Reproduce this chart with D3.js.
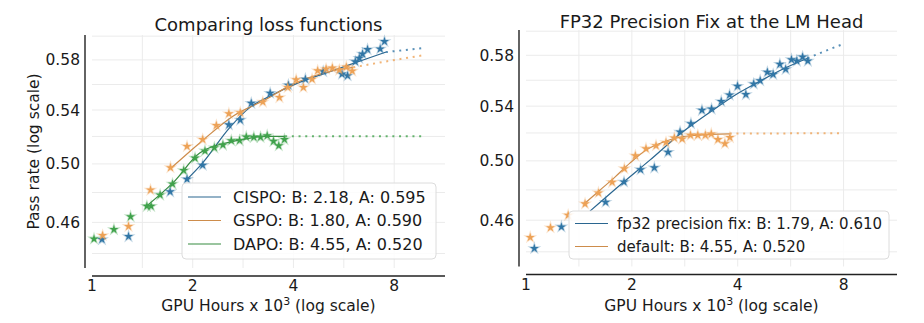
<!DOCTYPE html>
<html>
<head>
<meta charset="utf-8">
<script src="https://cdn.jsdelivr.net/npm/d3@7"></script>
<style>
  html, body { margin: 0; padding: 0; background: #fff; }
  svg { display: block; font-family: "DejaVu Sans", sans-serif; }
</style>
</head>
<body>
<svg id="chart" width="924" height="323"></svg>
<script>
// ---- left panel: loss functions (GPU hours x 1e3, pass rate) ----
var cispoHours = [1.071, 1.286, 1.712, 1.923, 2.142, 2.565, 2.774, 2.992, 3.408, 3.864, 4.343, 4.91, 5.587, 5.807, 6.123, 6.292, 6.435, 6.661, 7.267, 7.485];
var cispoPass  = [0.4489, 0.4508, 0.4805, 0.4892, 0.4991, 0.5287, 0.5323, 0.5452, 0.5531, 0.5595, 0.5643, 0.5705, 0.5684, 0.5671, 0.5786, 0.5814, 0.5850, 0.5887, 0.5892, 0.5955];
var cispoFitHours = [1.915, 2.142, 2.565, 2.992, 3.408, 4.168, 5.239, 6.588, 7.557];
var cispoFitPass  = [0.4887, 0.5008, 0.5259, 0.5428, 0.5509, 0.5617, 0.5711, 0.5808, 0.5865];
var cispoExtHours = [7.557, 8.568, 9.94];
var cispoExtPass  = [0.5865, 0.5882, 0.5901];

var gspoHours = [1.076, 1.286, 1.496, 1.716, 1.923, 2.142, 2.353, 2.565, 2.774, 3.240, 3.633, 3.847, 4.075, 4.284, 4.547, 4.726, 5.007, 5.228, 5.485, 5.755, 5.996];
var gspoPass  = [0.4515, 0.4574, 0.4817, 0.4974, 0.5127, 0.5177, 0.5282, 0.5372, 0.5380, 0.5462, 0.5497, 0.5577, 0.5638, 0.5577, 0.5643, 0.5711, 0.5725, 0.5734, 0.5717, 0.5742, 0.5709];
var gspoFitHours = [1.720, 2.098, 2.637, 3.316, 3.892, 5.239, 6.037];
var gspoFitPass  = [0.4969, 0.5152, 0.5353, 0.5483, 0.5589, 0.5711, 0.5739];
var gspoExtHours = [6.037, 7.728, 9.94];
var gspoExtPass  = [0.5739, 0.5792, 0.5842];

var dapoHours = [1.014, 1.163, 1.304, 1.459, 1.502, 1.598, 1.740, 1.880, 2.032, 2.176, 2.321, 2.462, 2.608, 2.761, 2.891, 3.046, 3.189, 3.339, 3.487, 3.616, 3.760];
var dapoPass  = [0.4493, 0.4553, 0.4638, 0.4707, 0.4707, 0.4783, 0.4859, 0.4953, 0.5042, 0.5094, 0.5117, 0.5137, 0.5169, 0.5170, 0.5197, 0.5194, 0.5194, 0.5206, 0.5164, 0.5132, 0.5177];
var dapoFitHours = [1.446, 1.747, 2.098, 2.637, 3.0, 3.240, 3.778];
var dapoFitPass  = [0.4703, 0.4868, 0.5078, 0.5164, 0.5190, 0.5200, 0.5201];
var dapoExtHours = [3.778, 9.94];
var dapoExtPass  = [0.5201, 0.5201];

var lossNames = ["CISPO", "GSPO", "DAPO"];
var lossB = [2.18, 1.80, 4.55];
var lossA = [0.595, 0.590, 0.520];

// ---- right panel: fp32 LM head fix ----
var fp32Hours = [1.056, 1.261, 1.684, 1.900, 2.117, 2.317, 2.535, 2.742, 2.945, 3.165, 3.370, 3.591, 3.792, 3.995, 4.219, 4.441, 4.634, 4.857, 5.045, 5.271, 5.475, 5.688, 5.890, 6.118, 6.330];
var fp32Pass  = [0.4421, 0.4557, 0.4718, 0.4854, 0.4939, 0.4952, 0.5061, 0.5207, 0.5269, 0.5369, 0.5378, 0.5436, 0.5485, 0.5553, 0.5489, 0.5571, 0.5597, 0.5663, 0.5646, 0.5727, 0.5687, 0.5765, 0.5754, 0.5786, 0.5754];
var fp32FitHours = [1.520, 1.849, 2.250, 2.737, 3.397, 4.053, 4.619, 5.437, 6.322];
var fp32FitPass  = [0.4659, 0.4832, 0.5005, 0.5191, 0.5369, 0.5506, 0.5592, 0.5695, 0.5776];
var fp32ExtHours = [6.322, 7.066, 7.898];
var fp32ExtPass  = [0.5776, 0.5833, 0.5888];

var defaultHours = [1.028, 1.174, 1.318, 1.472, 1.607, 1.758, 1.904, 2.046, 2.194, 2.343, 2.501, 2.641, 2.781, 2.936, 3.080, 3.236, 3.364, 3.514, 3.678, 3.800];
var defaultPass  = [0.4490, 0.4552, 0.4632, 0.4707, 0.4780, 0.4852, 0.4946, 0.5036, 0.5087, 0.5108, 0.5131, 0.5164, 0.5157, 0.5183, 0.5183, 0.5183, 0.5193, 0.5152, 0.5123, 0.5167];
var defaultFitHours = [1.471, 1.622, 1.790, 1.974, 2.191, 2.449, 2.737, 3.059, 3.797];
var defaultFitPass  = [0.4711, 0.4798, 0.4887, 0.4984, 0.5075, 0.5133, 0.5169, 0.5183, 0.5193];
var defaultExtHours = [3.797, 7.898];
var defaultExtPass  = [0.5196, 0.5198];

var precisionNames = ["fp32 precision fix", "default"];
var precisionB = [1.79, 4.55];
var precisionA = [0.610, 0.520];

// ---- axes ----
var xTicks = [1, 2, 4, 8];
var xGrid = [1.414, 2, 2.828, 4, 5.657, 8];
var yTicks = [0.46, 0.50, 0.54, 0.58];
var yGrid = [0.44, 0.46, 0.48, 0.50, 0.52, 0.54, 0.56, 0.58, 0.60];
var xDomain = [1, 11.35];
var yDomain = [0.431, 0.601];

var blue = "#3176a6", orange = "#eda257", green = "#40a24b";

function zip(xs, ys) { return xs.map(function(x, i) { return [x, ys[i]]; }); }

function makeSeries(color, hours, pass, fitH, fitP, extH, extP)
{
    return { color: color, stars: zip(hours, pass), fit: zip(fitH, fitP), ext: zip(extH, extP) };
}

function legendLabels(names, bs, as)
{
    return names.map(function(n, i) { return n + ": B: " + bs[i].toFixed(2) + ", A: " + as[i].toFixed(3); });
}

var panels = [
    {
        left: 92, right: 445, top: 35, bottom: 268,
        title: "Comparing loss functions", titleY: 31,
        yLabel: "Pass rate (log scale)",
        series: [
            makeSeries(blue, cispoHours, cispoPass, cispoFitHours, cispoFitPass, cispoExtHours, cispoExtPass),
            makeSeries(orange, gspoHours, gspoPass, gspoFitHours, gspoFitPass, gspoExtHours, gspoExtPass),
            makeSeries(green, dapoHours, dapoPass, dapoFitHours, dapoFitPass, dapoExtHours, dapoExtPass)
        ],
        legend: { x: 182, y: 183, w: 254, h: 76, first: 14, rowGap: 23.5, textX: 51, fontSize: 16,
                  labels: legendLabels(lossNames, lossB, lossA), colors: [blue, orange, green] }
    },
    {
        left: 526, right: 897, top: 30, bottom: 266.5,
        title: "FP32 Precision Fix at the LM Head", titleY: 28,
        yLabel: null,
        series: [
            makeSeries(blue, fp32Hours, fp32Pass, fp32FitHours, fp32FitPass, fp32ExtHours, fp32ExtPass),
            makeSeries(orange, defaultHours, defaultPass, defaultFitHours, defaultFitPass, defaultExtHours, defaultExtPass)
        ],
        legend: { x: 569, y: 211, w: 320, h: 48, first: 12.5, rowGap: 23, textX: 48, fontSize: 15,
                  labels: legendLabels(precisionNames, precisionB, precisionA), colors: [blue, orange] }
    }
];

var svg = d3.select("#chart");

function drawPanel(p)
{
    var g = svg.append("g");
    var x = d3.scaleLog().base(2).domain(xDomain).range([p.left, p.right]);
    var y = d3.scaleLog().domain(yDomain).range([p.bottom, p.top]);

    // Grid
    g.selectAll(".gx").data(xGrid).join("line")
        .attr("x1", function(d) { return x(d); }).attr("x2", function(d) { return x(d); })
        .attr("y1", p.top).attr("y2", p.bottom)
        .attr("stroke", "#ebebeb").attr("stroke-width", 1);
    g.selectAll(".gy").data(yGrid).join("line")
        .attr("x1", p.left).attr("x2", p.right)
        .attr("y1", function(d) { return y(d); }).attr("y2", function(d) { return y(d); })
        .attr("stroke", "#ebebeb").attr("stroke-width", 1);

    // Offset spines
    var spineX = p.left - 7, spineY = p.bottom + 8;
    g.append("line").attr("x1", spineX).attr("x2", spineX).attr("y1", p.top).attr("y2", p.bottom)
        .attr("stroke", "#222").attr("stroke-width", 1.4);
    g.append("line").attr("x1", p.left).attr("x2", p.right).attr("y1", spineY).attr("y2", spineY)
        .attr("stroke", "#222").attr("stroke-width", 1.4);

    // Tick labels
    g.selectAll(".tx").data(xTicks).join("text")
        .attr("x", function(d) { return x(d); }).attr("y", spineY + 15)
        .attr("text-anchor", "middle").attr("font-size", 15.5).attr("fill", "#1a1a1a")
        .text(function(d) { return d; });
    g.selectAll(".ty").data(yTicks).join("text")
        .attr("x", spineX - 5).attr("y", function(d) { return y(d) + 5.5; })
        .attr("text-anchor", "end").attr("font-size", 15.5).attr("fill", "#1a1a1a")
        .text(function(d) { return d.toFixed(2); });

    // Title and axis labels
    g.append("text").attr("x", (p.left + p.right) / 2).attr("y", p.titleY)
        .attr("text-anchor", "middle").attr("font-size", 18).attr("fill", "#1a1a1a")
        .text(p.title);

    var xl = g.append("text").attr("x", (p.left + p.right) / 2).attr("y", 311)
        .attr("text-anchor", "middle").attr("font-size", 15.5).attr("fill", "#1a1a1a");
    xl.append("tspan").text("GPU Hours x 10");
    xl.append("tspan").attr("dy", -6).attr("font-size", 11).text("3");
    xl.append("tspan").attr("dy", 6).text(" (log scale)");

    if (p.yLabel)
    {
        g.append("text")
            .attr("transform", "translate(" + 39 + "," + ((p.top + p.bottom) / 2) + ") rotate(-90)")
            .attr("text-anchor", "middle").attr("font-size", 15.5).attr("fill", "#1a1a1a")
            .text(p.yLabel);
    }

    var line = d3.line()
        .x(function(d) { return x(d[0]); })
        .y(function(d) { return y(d[1]); })
        .curve(d3.curveMonotoneX);

    // Extrapolated fits (dotted), fitted curves, then the measured points
    p.series.forEach(function(s) {
        g.append("path").attr("d", line(s.ext)).attr("fill", "none")
            .attr("stroke", s.color).attr("stroke-width", 2)
            .attr("stroke-dasharray", "2,4.7").attr("opacity", 0.8);
        g.append("path").attr("d", line(s.fit)).attr("fill", "none")
            .attr("stroke", d3.color(s.color).darker(0.4)).attr("stroke-width", 1.2);
    });

    var star = d3.symbol(d3.symbolStar, 25);
    p.series.forEach(function(s) {
        g.append("g").selectAll("path").data(s.stars).join("path")
            .attr("d", star)
            .attr("transform", function(d) { return "translate(" + x(d[0]) + "," + y(d[1]) + ")"; })
            .attr("fill", s.color)
            .attr("stroke", s.color).attr("stroke-opacity", 0.3).attr("stroke-width", 1.6);
    });

    // Legend
    var L = p.legend;
    var lg = g.append("g");
    lg.append("rect").attr("x", L.x).attr("y", L.y).attr("width", L.w).attr("height", L.h)
        .attr("rx", 4).attr("fill", "#fff").attr("fill-opacity", 0.85)
        .attr("stroke", "#dcdcdc").attr("stroke-width", 1);
    L.labels.forEach(function(label, i) {
        var cy = L.y + L.first + i * L.rowGap;
        lg.append("line").attr("x1", L.x + 6).attr("x2", L.x + 39).attr("y1", cy).attr("y2", cy)
            .attr("stroke", d3.color(L.colors[i]).darker(0.4)).attr("stroke-width", 1.2);
        lg.append("text").attr("x", L.x + L.textX).attr("y", cy + L.fontSize * 0.37)
            .attr("font-size", L.fontSize).attr("fill", "#1a1a1a").text(label);
    });
}

panels.forEach(drawPanel);
</script>
</body>
</html>
